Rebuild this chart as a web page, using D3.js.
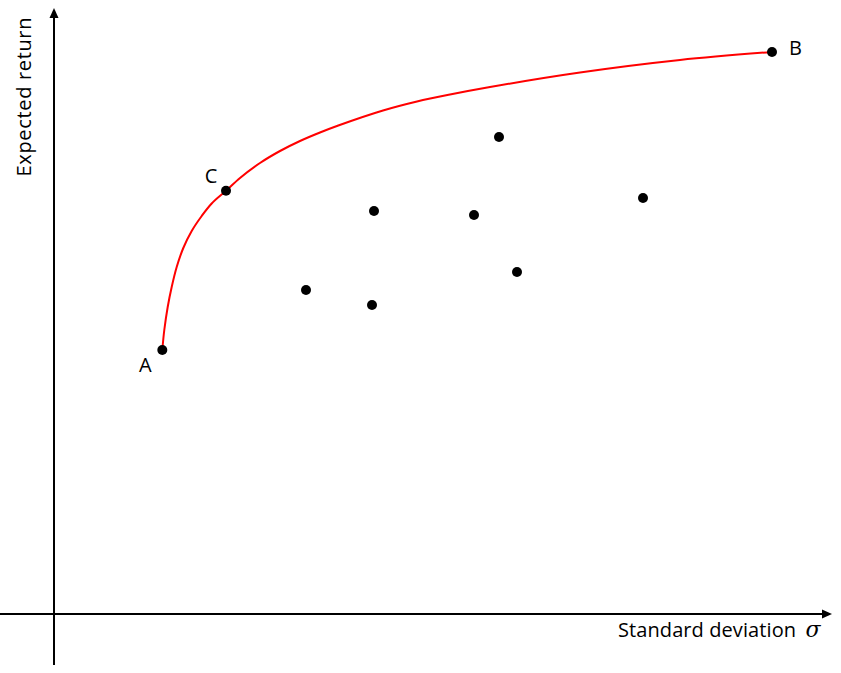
<!DOCTYPE html>
<html>
<head>
<meta charset="utf-8">
<script src="https://cdn.jsdelivr.net/npm/d3@7"></script>
<style>
  html, body { margin: 0; padding: 0; background: #fff; }
  svg { display: block; }
</style>
</head>
<body>
<svg id="chart" width="841" height="673"></svg>
<script>
// Efficient frontier (curve from A through C to B), in chart units
const frontierX = [108.3, 110.3, 113.7, 117.7, 122.7, 129.3, 137.7, 147.7, 157.7, 172, 186, 206, 226, 246, 266, 284.3, 329, 363, 396, 436, 526, 626, 718];
const frontierY = [264, 284, 307, 327, 347, 366, 383, 398, 410.5, 423.2, 436, 451, 463, 473, 481.5, 488.5, 503.5, 512.5, 519.5, 527, 541.5, 554, 562];

// Labeled points
const labelNames = ["A", "C", "B"];
const labelX = [108.3, 172, 718];
const labelY = [264, 423.2, 562];

// Other individual assets
const assetX = [252, 320, 318, 420, 445, 463, 589];
const assetY = [324, 403, 309, 399, 477, 342, 416];

const xLabel = "Standard deviation";
const yLabel = "Expected return";

const svg = d3.select("#chart");
const x = d3.scaleLinear().domain([0, 800]).range([54, 854]);
const y = d3.scaleLinear().domain([0, 600]).range([614, 14]);

// axes (no ticks), extended beyond origin with arrowheads
const axisColor = "#000";
svg.append("line")
  .attr("x1", 0).attr("x2", 826)
  .attr("y1", y(0)).attr("y2", y(0))
  .attr("stroke", axisColor).attr("stroke-width", 2);
svg.append("path")
  .attr("d", `M832,${y(0)} L822,${y(0) - 4.5} L822,${y(0) + 4.5} Z`)
  .attr("fill", axisColor);
svg.append("line")
  .attr("x1", x(0)).attr("x2", x(0))
  .attr("y1", 665).attr("y2", 15)
  .attr("stroke", axisColor).attr("stroke-width", 2);
svg.append("path")
  .attr("d", `M${x(0)},8 L${x(0) - 4.5},18 L${x(0) + 4.5},18 Z`)
  .attr("fill", axisColor);

// frontier curve
const pts = frontierX.map((d, i) => [d, frontierY[i]]);
const line = d3.line()
  .x(d => x(d[0])).y(d => y(d[1]))
  .curve(d3.curveCatmullRom.alpha(0.5));
svg.append("path")
  .datum(pts)
  .attr("d", line)
  .attr("fill", "none")
  .attr("stroke", "#ff0000")
  .attr("stroke-width", 2);

// asset dots
svg.selectAll("circle.asset")
  .data(assetX.map((d, i) => [d, assetY[i]]))
  .join("circle")
  .attr("class", "asset")
  .attr("cx", d => x(d[0])).attr("cy", d => y(d[1]))
  .attr("r", 5).attr("fill", "#000");

// labeled dots
const labeled = labelNames.map((n, i) => ({ n, x: labelX[i], y: labelY[i] }));
svg.selectAll("circle.lab")
  .data(labeled)
  .join("circle")
  .attr("class", "lab")
  .attr("cx", d => x(d.x)).attr("cy", d => y(d.y))
  .attr("r", 5).attr("fill", "#000");

const font = "'Open Sans', 'Noto Sans', sans-serif";
const offsets = { A: [-17, 22], C: [-15, -8], B: [23.5, 3] };
svg.selectAll("text.lab")
  .data(labeled)
  .join("text")
  .attr("class", "lab")
  .attr("x", d => x(d.x) + offsets[d.n][0])
  .attr("y", d => y(d.y) + offsets[d.n][1])
  .attr("text-anchor", "middle")
  .attr("font-family", font)
  .attr("font-size", 20)
  .text(d => d.n);

// axis titles
svg.append("text")
  .attr("x", 796).attr("y", 637)
  .attr("text-anchor", "end")
  .attr("font-family", font)
  .attr("font-size", 20)
  .attr("textLength", 178)
  .text(xLabel);
svg.append("text")
  .attr("x", 813).attr("y", 637)
  .attr("text-anchor", "middle")
  .attr("font-family", "'DejaVu Serif', serif")
  .attr("font-style", "italic")
  .attr("font-size", 22)
  .text("σ");

svg.append("text")
  .attr("transform", "translate(31,97) rotate(-90)")
  .attr("text-anchor", "middle")
  .attr("font-family", font)
  .attr("font-size", 20)
  .attr("textLength", 159)
  .text(yLabel);
</script>
</body>
</html>
